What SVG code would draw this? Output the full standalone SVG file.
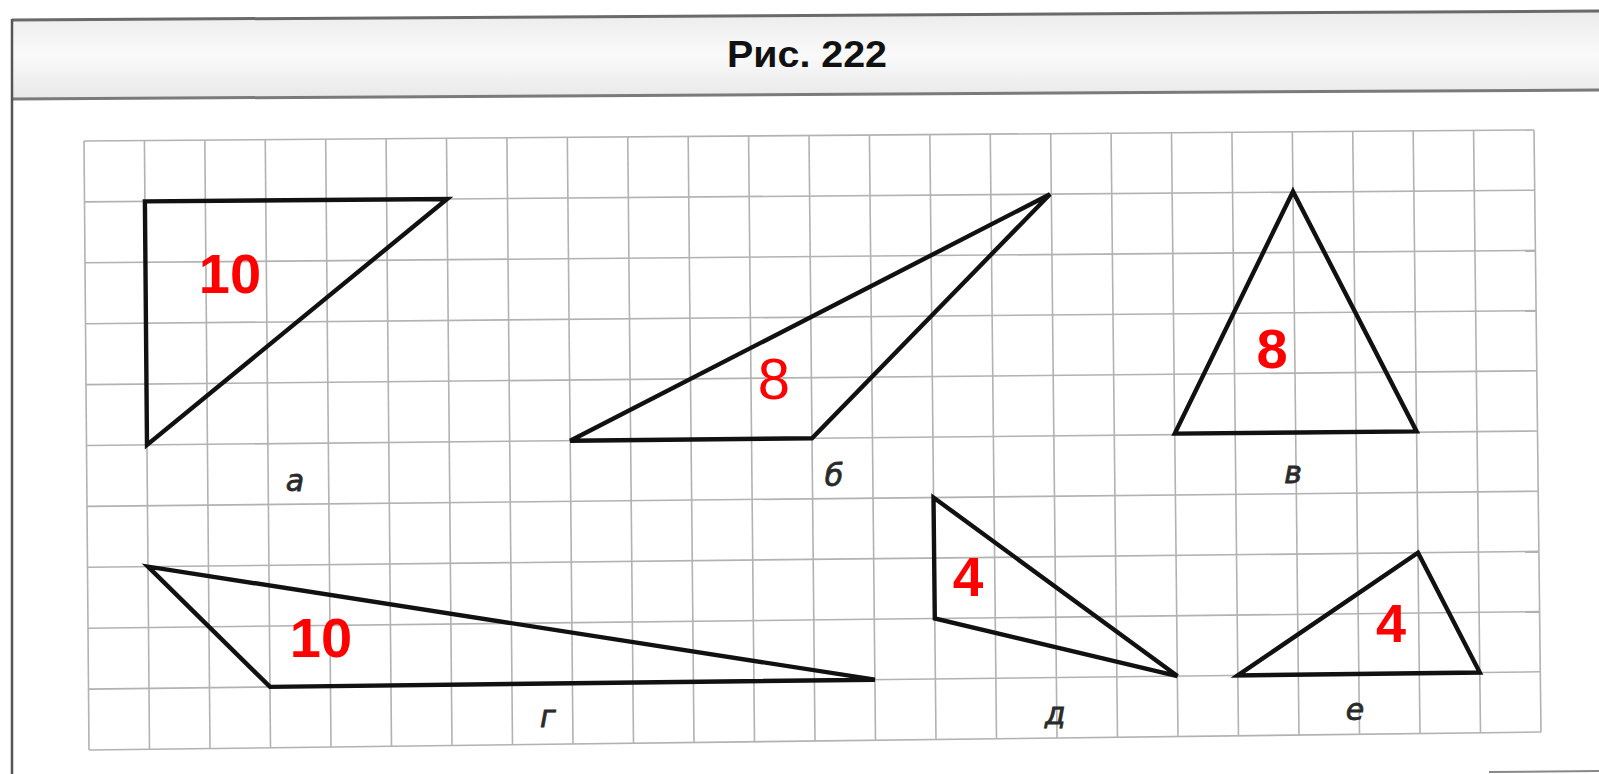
<svg xmlns="http://www.w3.org/2000/svg" width="1599" height="774" viewBox="0 0 1599 774">
<style>
.grid line{stroke:#b2b2b2;stroke-width:1.6}
.tri{fill:none;stroke:#111;stroke-width:4.4;stroke-linejoin:miter}
.num{font-family:"Liberation Sans",Arial,sans-serif;font-weight:bold;fill:#ff0000;text-anchor:middle}
.numr{font-family:"Liberation Sans",Arial,sans-serif;font-weight:normal;fill:#ff0000;text-anchor:middle}
.lab{font-family:"DejaVu Sans","Liberation Sans",sans-serif;font-style:oblique;font-size:30px;fill:#2a2a2a;stroke:#2a2a2a;stroke-width:0.8;text-anchor:middle}
</style>
<defs>
<linearGradient id="hdr" x1="0" y1="0" x2="0" y2="1">
<stop offset="0" stop-color="#ebebeb"/>
<stop offset="0.5" stop-color="#fafafa"/>
<stop offset="1" stop-color="#e8e8e8"/>
</linearGradient>
</defs>
<rect width="1599" height="774" fill="#fff"/>
<g id="header">
<polygon points="12,20 1599,11 1599,90 12,99" fill="url(#hdr)"/>
<line x1="12" y1="20" x2="1599" y2="11" stroke="#6a6a6a" stroke-width="3"/>
<line x1="12" y1="99" x2="1599" y2="90" stroke="#7a7a7a" stroke-width="3"/>
<line x1="12" y1="19" x2="12" y2="774" stroke="#555" stroke-width="2.5"/>
<line x1="1489" y1="772" x2="1599" y2="771" stroke="#888" stroke-width="2"/>
<text x="807" y="67" font-family="'Liberation Sans',Arial,sans-serif" font-weight="bold" font-size="37" fill="#111" text-anchor="middle" textLength="160" lengthAdjust="spacingAndGlyphs">Рис. 222</text>
</g>
<g id="grid" class="grid">
<line x1="84" y1="141" x2="89" y2="750"/>
<line x1="144.42" y1="140.54" x2="149.5" y2="749.25"/>
<line x1="204.83" y1="140.08" x2="210" y2="748.5"/>
<line x1="265.25" y1="139.63" x2="270.5" y2="747.75"/>
<line x1="325.67" y1="139.17" x2="331" y2="747"/>
<line x1="386.08" y1="138.71" x2="391.5" y2="746.25"/>
<line x1="446.5" y1="138.25" x2="452" y2="745.5"/>
<line x1="506.92" y1="137.79" x2="512.5" y2="744.75"/>
<line x1="567.33" y1="137.33" x2="573" y2="744"/>
<line x1="627.75" y1="136.88" x2="633.5" y2="743.25"/>
<line x1="688.17" y1="136.42" x2="694" y2="742.5"/>
<line x1="748.58" y1="135.96" x2="754.5" y2="741.75"/>
<line x1="809" y1="135.5" x2="815" y2="741"/>
<line x1="869.42" y1="135.04" x2="875.5" y2="740.25"/>
<line x1="929.83" y1="134.58" x2="936" y2="739.5"/>
<line x1="990.25" y1="134.13" x2="996.5" y2="738.75"/>
<line x1="1050.67" y1="133.67" x2="1057" y2="738"/>
<line x1="1111.08" y1="133.21" x2="1117.5" y2="737.25"/>
<line x1="1171.5" y1="132.75" x2="1178" y2="736.5"/>
<line x1="1231.92" y1="132.29" x2="1238.5" y2="735.75"/>
<line x1="1292.33" y1="131.83" x2="1299" y2="735"/>
<line x1="1352.75" y1="131.38" x2="1359.5" y2="734.25"/>
<line x1="1413.17" y1="130.92" x2="1420" y2="733.5"/>
<line x1="1473.58" y1="130.46" x2="1480.5" y2="732.75"/>
<line x1="1534" y1="130" x2="1541" y2="732"/>
<line x1="84" y1="141" x2="1534" y2="130"/>
<line x1="84.5" y1="201.9" x2="1534.7" y2="190.2"/>
<line x1="85" y1="262.8" x2="1535.4" y2="250.4"/>
<line x1="85.5" y1="323.7" x2="1536.1" y2="310.6"/>
<line x1="86" y1="384.6" x2="1536.8" y2="370.8"/>
<line x1="86.5" y1="445.5" x2="1537.5" y2="431"/>
<line x1="87" y1="506.4" x2="1538.2" y2="491.2"/>
<line x1="87.5" y1="567.3" x2="1538.9" y2="551.4"/>
<line x1="88" y1="628.2" x2="1539.6" y2="611.6"/>
<line x1="88.5" y1="689.1" x2="1540.3" y2="671.8"/>
<line x1="89" y1="750" x2="1541" y2="732"/>
</g>
<g id="connectors"></g>
<g id="tri-a">
<polygon class="tri" points="144.9,201.4 447.1,199 147,444.9"/>
<text class="num" x="230" y="293" font-size="56">10</text>
<text class="lab" x="295" y="491">а</text>
</g>
<g id="tri-b">
<polygon class="tri" points="570.2,440.7 812,438.3 1050,194.2"/>
<text class="numr" x="774" y="399" font-size="58">8</text>
<text class="lab" x="834" y="486">б</text>
</g>
<g id="tri-v">
<polygon class="tri" points="1293,191.5 1174.8,433.6 1416.6,431.4"/>
<text class="num" x="1272" y="368" font-size="56">8</text>
<text class="lab" x="1293" y="483">в</text>
</g>
<g id="tri-g">
<polygon class="tri" points="148,566.6 270,686.9 874.9,679.7"/>
<text class="num" x="321" y="657" font-size="56">10</text>
<text class="lab" x="548" y="727">г</text>
</g>
<g id="tri-d">
<polygon class="tri" points="933.5,497.5 934.8,618.5 1177.4,676.1"/>
<text class="num" x="968" y="596" font-size="55">4</text>
<text class="lab" x="1055" y="724">д</text>
</g>
<g id="tri-e">
<polygon class="tri" points="1237.8,675.4 1418,552.7 1479.8,672.5"/>
<text class="num" x="1391" y="642" font-size="54">4</text>
<text class="lab" x="1355" y="720">е</text>
</g>
</svg>
